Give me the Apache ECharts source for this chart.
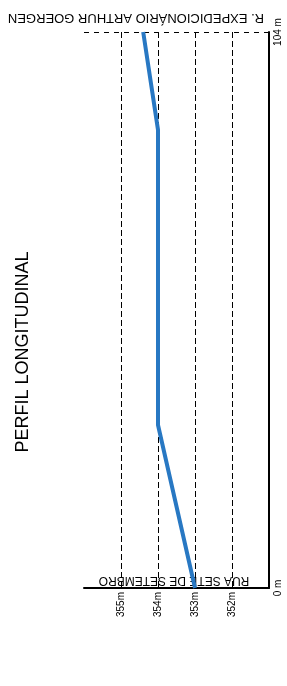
<!DOCTYPE html>
<html>
<head>
<meta charset="utf-8">
<script src="https://cdn.jsdelivr.net/npm/echarts@6/dist/echarts.min.js"></script>
<style>
  html, body { margin: 0; padding: 0; background: #fff; }
  #main { width: 287px; height: 686px; }
</style>
</head>
<body>
<div id="main"></div>
<script>
// perfil: distancia (m) x cota (m)
var distancias = [0, 30.5, 85.7, 104];
var cotas = [353.0, 354.0, 354.0, 354.4];

var ruaInicio = 'RUA SETE DE SETEMBRO';
var ruaFim = 'R. EXPEDICIONÁRIO ARTHUR GOERGEN';
var titulo = 'PERFIL LONGITUDINAL';

var fonte = '"Liberation Sans", Arial, sans-serif';

var pontos = [];
for (var i = 0; i < distancias.length; i++) {
    pontos.push([cotas[i], distancias[i]]);
}

var chart = echarts.init(document.getElementById('main'));

var option = {
    animation: false,
    backgroundColor: '#fff',
    grid: {
        left: 84,
        right: 18,
        top: 32,
        bottom: 98
    },
    xAxis: {
        type: 'value',
        inverse: true,
        min: 351,
        max: 356,
        interval: 1,
        axisLine: {show: true, onZero: false, lineStyle: {color: '#000', width: 2}},
        axisTick: {show: false},
        axisLabel: {
            rotate: 90,
            margin: 4,
            fontSize: 10,
            fontFamily: fonte,
            color: '#000',
            showMinLabel: false,
            showMaxLabel: false,
            formatter: function (v) { return v + 'm'; }
        },
        splitLine: {
            show: true,
            showMinLine: false,
            showMaxLine: false,
            lineStyle: {color: '#000', width: 1, type: [6, 3]}
        }
    },
    yAxis: {
        type: 'value',
        position: 'right',
        min: 0,
        max: 104,
        interval: 104,
        axisLine: {show: true, onZero: false, lineStyle: {color: '#000', width: 2}},
        axisTick: {show: false},
        axisLabel: {
            rotate: 90,
            margin: 4,
            fontSize: 10,
            fontFamily: fonte,
            color: '#000',
            formatter: '{value} m'
        },
        splitLine: {
            show: true,
            showMinLine: false,
            lineStyle: {color: '#000', width: 1, type: [5, 5]}
        }
    },
    series: [
        {
            type: 'line',
            data: pontos,
            symbol: 'none',
            clip: false,
            z: 1,
            lineStyle: {color: '#2878c3', width: 4}
        }
    ],
    graphic: [
        {
            type: 'text',
            x: 23,
            y: 352,
            rotation: Math.PI / 2,
            style: {text: titulo, font: '18px ' + fonte, fill: '#000', align: 'center', verticalAlign: 'middle'}
        },
        {
            type: 'text',
            x: 174,
            y: 580,
            rotation: Math.PI,
            style: {text: ruaInicio, font: '12px ' + fonte, fill: '#000', align: 'center', verticalAlign: 'middle'}
        },
        {
            type: 'text',
            x: 136,
            y: 18,
            rotation: Math.PI,
            style: {text: ruaFim, font: '13px ' + fonte, fill: '#000', align: 'center', verticalAlign: 'middle'}
        }
    ]
};

chart.setOption(option);
</script>
</body>
</html>
